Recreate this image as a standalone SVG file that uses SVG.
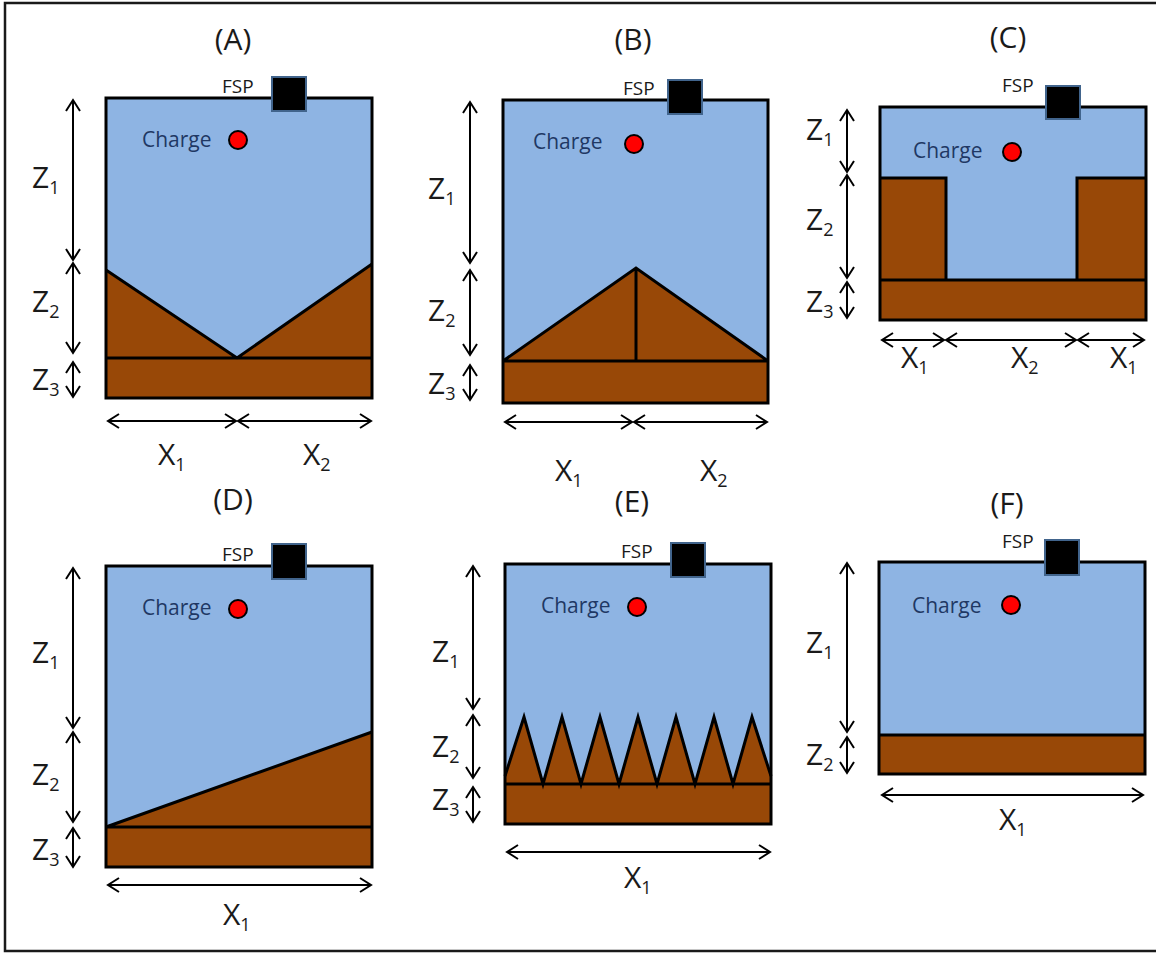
<svg xmlns="http://www.w3.org/2000/svg" width="1156" height="953" viewBox="0 0 1156 953">
<style>
text{font-family:"Open Sans","Liberation Sans",sans-serif;fill:#1a1a1a}
.t{font-size:30px;text-anchor:middle}
.lb{font-size:30px}
.sub{font-size:18px}
.fsp{font-size:19px}
.ch{font-size:21px;fill:#1F3864}
.water{fill:#8EB4E3;stroke:none}
.soil{fill:#984807;stroke:none}
.ol{fill:none;stroke:#000;stroke-width:3;stroke-linejoin:miter}
.sq{fill:#000;stroke:#41648C;stroke-width:2}
.dot{fill:#FF0000;stroke:#000;stroke-width:2}
.ar{stroke:#000;stroke-width:2;fill:none;marker-start:url(#ah);marker-end:url(#ah)}
.frame{stroke:#1a1a1a;stroke-width:2.5;fill:none}
</style>
<defs>
<marker id="ah" markerUnits="userSpaceOnUse" viewBox="-14 -9 16 18" refX="0" refY="0" markerWidth="16" markerHeight="18" orient="auto-start-reverse">
<path d="M-11,-7 L0,0 L-11,7" fill="none" stroke="#000" stroke-width="2"/>
</marker>
</defs>
<rect width="1156" height="953" fill="#fff"/>
<path class="frame" d="M1156,3 H5 V951 H1156"/>

<g id="panelA">
<text class="t" x="233" y="50">(A)</text>
<rect class="water" x="106" y="98" width="266" height="300"/>
<polygon class="soil" points="106,270 237,358 372,264 372,398 106,398"/>
<rect class="ol" x="106" y="98" width="266" height="300"/>
<path class="ol" d="M106,358 H372 M106,270 L237,358 L372,264"/>
<text class="fsp" x="222" y="93">FSP</text>
<rect class="sq" x="272" y="77" width="34" height="34"/>
<text class="ch" x="142" y="147">Charge</text>
<circle class="dot" cx="238" cy="140" r="9"/>
<text class="lb" x="32" y="188">Z<tspan class="sub" dy="6">1</tspan></text>
<text class="lb" x="32" y="312">Z<tspan class="sub" dy="6">2</tspan></text>
<text class="lb" x="32" y="390">Z<tspan class="sub" dy="6">3</tspan></text>
<text class="lb" x="158" y="465">X<tspan class="sub" dy="6">1</tspan></text>
<text class="lb" x="303" y="465">X<tspan class="sub" dy="6">2</tspan></text>
</g>

<g id="panelB">
<text class="t" x="633" y="50">(B)</text>
<rect class="water" x="503" y="100" width="265" height="303"/>
<polygon class="soil" points="503,361 636,268 768,361 768,403 503,403"/>
<rect class="ol" x="503" y="100" width="265" height="303"/>
<path class="ol" d="M503,361 H768 M503,361 L636,268 L768,361 M636,268 V361"/>
<text class="fsp" x="623" y="95">FSP</text>
<rect class="sq" x="668" y="80" width="34" height="34"/>
<text class="ch" x="533" y="149">Charge</text>
<circle class="dot" cx="634" cy="144" r="9"/>
<text class="lb" x="428" y="199">Z<tspan class="sub" dy="6">1</tspan></text>
<text class="lb" x="428" y="321">Z<tspan class="sub" dy="6">2</tspan></text>
<text class="lb" x="428" y="394">Z<tspan class="sub" dy="6">3</tspan></text>
<text class="lb" x="555" y="481">X<tspan class="sub" dy="6">1</tspan></text>
<text class="lb" x="700" y="481">X<tspan class="sub" dy="6">2</tspan></text>
</g>

<g id="panelC">
<text class="t" x="1008" y="48">(C)</text>
<rect class="water" x="880" y="107" width="266" height="213"/>
<rect class="soil" x="880" y="178" width="66" height="102"/>
<rect class="soil" x="1077" y="178" width="69" height="102"/>
<rect class="soil" x="880" y="280" width="266" height="40"/>
<rect class="ol" x="880" y="107" width="266" height="213"/>
<path class="ol" d="M880,280 H1146 M880,178 H946 V280 M1146,178 H1077 V280"/>
<text class="fsp" x="1002" y="92">FSP</text>
<rect class="sq" x="1046" y="86" width="34" height="33"/>
<text class="ch" x="913" y="158">Charge</text>
<circle class="dot" cx="1012" cy="152" r="9"/>
<text class="lb" x="806" y="140">Z<tspan class="sub" dy="6">1</tspan></text>
<text class="lb" x="806" y="230">Z<tspan class="sub" dy="6">2</tspan></text>
<text class="lb" x="806" y="312">Z<tspan class="sub" dy="6">3</tspan></text>
<text class="lb" x="901" y="368">X<tspan class="sub" dy="6">1</tspan></text>
<text class="lb" x="1011" y="368">X<tspan class="sub" dy="6">2</tspan></text>
<text class="lb" x="1110" y="368">X<tspan class="sub" dy="6">1</tspan></text>
</g>

<g id="panelD">
<text class="t" x="233" y="510">(D)</text>
<rect class="water" x="106" y="566" width="266" height="301"/>
<polygon class="soil" points="106,827 372,732 372,867 106,867"/>
<rect class="ol" x="106" y="566" width="266" height="301"/>
<path class="ol" d="M106,827 H372 M106,827 L372,732"/>
<text class="fsp" x="222" y="561">FSP</text>
<rect class="sq" x="272" y="544" width="34" height="35"/>
<text class="ch" x="142" y="615">Charge</text>
<circle class="dot" cx="238" cy="609" r="9"/>
<text class="lb" x="32" y="663">Z<tspan class="sub" dy="6">1</tspan></text>
<text class="lb" x="32" y="785">Z<tspan class="sub" dy="6">2</tspan></text>
<text class="lb" x="32" y="860">Z<tspan class="sub" dy="6">3</tspan></text>
<text class="lb" x="223" y="925">X<tspan class="sub" dy="6">1</tspan></text>
</g>

<g id="panelE">
<text class="t" x="632" y="512">(E)</text>
<rect class="water" x="505" y="564" width="266" height="260"/>
<polygon class="soil" points="505,784 505,776 524,717 543,784 562,717 581,784 600,717 619,784 638,717 657,784 676,717 695,784 714,717 733,784 752,717 771,776 771,824 505,824"/>
<rect class="ol" x="505" y="564" width="266" height="260"/>
<path class="ol" d="M505,784 H771 M505,776 L524,717 L543,784 L562,717 L581,784 L600,717 L619,784 L638,717 L657,784 L676,717 L695,784 L714,717 L733,784 L752,717 L771,776"/>
<text class="fsp" x="621" y="558">FSP</text>
<rect class="sq" x="671" y="543" width="34" height="34"/>
<text class="ch" x="541" y="613">Charge</text>
<circle class="dot" cx="637" cy="607" r="9"/>
<text class="lb" x="432" y="662">Z<tspan class="sub" dy="6">1</tspan></text>
<text class="lb" x="432" y="757">Z<tspan class="sub" dy="6">2</tspan></text>
<text class="lb" x="432" y="810">Z<tspan class="sub" dy="6">3</tspan></text>
<text class="lb" x="624" y="888">X<tspan class="sub" dy="6">1</tspan></text>
</g>

<g id="panelF">
<text class="t" x="1007" y="514">(F)</text>
<rect class="water" x="879" y="562" width="266" height="212"/>
<rect class="soil" x="879" y="735" width="266" height="39"/>
<rect class="ol" x="879" y="562" width="266" height="212"/>
<path class="ol" d="M879,735 H1145"/>
<text class="fsp" x="1002" y="548">FSP</text>
<rect class="sq" x="1045" y="540" width="34" height="35"/>
<text class="ch" x="912" y="613">Charge</text>
<circle class="dot" cx="1011" cy="605" r="9"/>
<text class="lb" x="806" y="653">Z<tspan class="sub" dy="6">1</tspan></text>
<text class="lb" x="806" y="765">Z<tspan class="sub" dy="6">2</tspan></text>
<text class="lb" x="999" y="830">X<tspan class="sub" dy="6">1</tspan></text>
</g>

<g id="connectors">
<line class="ar" x1="73" y1="100" x2="73" y2="260"/>
<line class="ar" x1="73" y1="263" x2="73" y2="353"/>
<line class="ar" x1="73" y1="362" x2="73" y2="397"/>
<line class="ar" x1="108" y1="421" x2="236" y2="421"/>
<line class="ar" x1="238" y1="421" x2="371" y2="421"/>

<line class="ar" x1="470" y1="102" x2="470" y2="263"/>
<line class="ar" x1="470" y1="270" x2="470" y2="355"/>
<line class="ar" x1="470" y1="365" x2="470" y2="400"/>
<line class="ar" x1="505" y1="422" x2="632" y2="422"/>
<line class="ar" x1="634" y1="422" x2="767" y2="422"/>

<line class="ar" x1="847" y1="110" x2="847" y2="172"/>
<line class="ar" x1="847" y1="175" x2="847" y2="278"/>
<line class="ar" x1="847" y1="282" x2="847" y2="318"/>
<line class="ar" x1="882" y1="340" x2="944" y2="340"/>
<line class="ar" x1="946" y1="340" x2="1076" y2="340"/>
<line class="ar" x1="1078" y1="340" x2="1144" y2="340"/>

<line class="ar" x1="73" y1="568" x2="73" y2="728"/>
<line class="ar" x1="73" y1="732" x2="73" y2="822"/>
<line class="ar" x1="73" y1="828" x2="73" y2="867"/>
<line class="ar" x1="108" y1="885" x2="371" y2="885"/>

<line class="ar" x1="473" y1="566" x2="473" y2="709"/>
<line class="ar" x1="473" y1="715" x2="473" y2="778"/>
<line class="ar" x1="473" y1="787" x2="473" y2="822"/>
<line class="ar" x1="507" y1="852" x2="770" y2="852"/>

<line class="ar" x1="847" y1="563" x2="847" y2="732"/>
<line class="ar" x1="847" y1="737" x2="847" y2="773"/>
<line class="ar" x1="882" y1="795" x2="1143" y2="795"/>
</g>
</svg>
